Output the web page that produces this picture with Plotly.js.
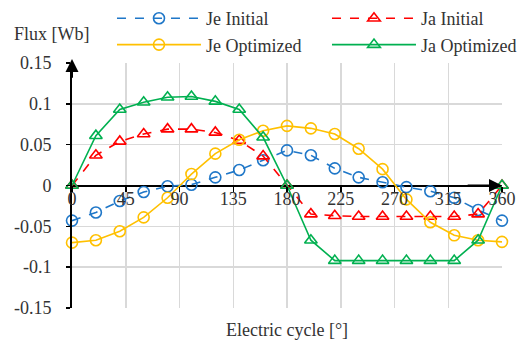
<!DOCTYPE html>
<html>
<head>
<meta charset="utf-8">
<script src="https://cdn.plot.ly/plotly-3.0.1.min.js"></script>
<style>html,body{margin:0;padding:0;background:#fff;}#chart{width:524px;height:343px;}</style>
</head>
<body>
<div id="chart"></div>
<script>
const angles = [0,20,40,60,80,100,120,140,160,180,200,220,240,260,280,300,320,340,360];
const jeInitial = [-0.043,-0.033,-0.019,-0.008,-0.001,0.001,0.010,0.019,0.031,0.043,0.037,0.021,0.010,0.004,-0.002,-0.007,-0.015,-0.030,-0.043];
const jaInitial = [0,0.037,0.054,0.063,0.069,0.069,0.065,0.055,0.036,0,-0.035,-0.037,-0.038,-0.038,-0.038,-0.038,-0.038,-0.035,0];
const jeOptimized = [-0.070,-0.067,-0.056,-0.039,-0.015,0.014,0.039,0.056,0.067,0.073,0.070,0.063,0.045,0.020,-0.017,-0.045,-0.061,-0.067,-0.069];
const jaOptimized = [0,0.061,0.093,0.102,0.108,0.109,0.103,0.093,0.059,0,-0.067,-0.092,-0.092,-0.092,-0.092,-0.092,-0.092,-0.067,0];
const seriesNames = ["Je Initial","Ja Initial","Je Optimized","Ja Optimized"];
const xTicks = [0,45,90,135,180,225,270,315,360];
const yTicks = [-0.15,-0.1,-0.05,0,0.05,0.1,0.15];
const yTickText = ["-0.15","-0.1","-0.05","0","0.05","0.1","0.15"];

const FONT = "Liberation Serif, Times New Roman, serif";
const FS = 18;
function tr(y, name, color, dash, symbol, legendId){
  return {x: angles, y: y, name: name, type: 'scatter', mode: 'lines+markers',
    legend: legendId,
    line: {color: color, width: 1.6, dash: dash},
    marker: {symbol: symbol, size: 11, color: color, line: {width: 1.6, color: color}},
    cliponaxis: false};
}
const data = [
  tr(jeInitial, seriesNames[0], '#1F77C8', 'dash', 'circle-open', 'legend'),
  tr(jaInitial, seriesNames[1], '#FF0000', 'dash', 'triangle-up-open', 'legend2'),
  tr(jeOptimized, seriesNames[2], '#FFC000', 'solid', 'circle-open', 'legend'),
  tr(jaOptimized, seriesNames[3], '#00B050', 'solid', 'triangle-up-open', 'legend2')
];
const legendBase = {orientation: 'v', xref: 'paper', yref: 'container', xanchor: 'left', yanchor: 'top', y: 1,
  itemwidth: 84, font: {family: FONT, size: FS, color: '#333'}, bgcolor: 'rgba(0,0,0,0)', traceorder: 'normal'};
const layout = {
  width: 524, height: 343,
  margin: {l: 72, r: 22, t: 60, b: 35},
  paper_bgcolor: '#fff', plot_bgcolor: '#fff',
  font: {family: FONT, size: FS, color: '#333'},
  showlegend: true,
  legend: Object.assign({}, legendBase, {x: 0.093}),
  legend2: Object.assign({}, legendBase, {x: 0.593}),
  xaxis: {range: [0, 360], tickvals: xTicks, ticktext: xTicks.map(String),
    anchor: 'free', position: 0.5, showline: false, zeroline: false,
    showgrid: true, gridcolor: '#d9d9d9', gridwidth: 1.5,
    ticks: 'outside', ticklen: 5, tickcolor: '#000', tickwidth: 1.5,
    ticklabelstandoff: -8,
    tickfont: {family: FONT, size: FS, color: '#333'}},
  yaxis: {range: [-0.15, 0.15], tickvals: yTicks, ticktext: yTickText,
    showline: true, linecolor: '#000', linewidth: 2,
    zeroline: true, zerolinecolor: '#000', zerolinewidth: 2,
    showgrid: true, gridcolor: '#d9d9d9', gridwidth: 1.5,
    ticks: 'outside', ticklen: 4, tickcolor: '#000', tickwidth: 1.5,
    ticklabelstandoff: 11,
    tickfont: {family: FONT, size: FS, color: '#333'}},
  annotations: [
    {x: 0, y: 0.155, ax: 0, ay: 0.13, xref: 'x', yref: 'y', axref: 'x', ayref: 'y',
     showarrow: true, arrowhead: 2, arrowsize: 1.3, arrowwidth: 2, arrowcolor: '#000', text: ''},
    {x: 360, y: 0, ax: 330, ay: 0, xref: 'x', yref: 'y', axref: 'x', ayref: 'y',
     showarrow: true, arrowhead: 2, arrowsize: 1.3, arrowwidth: 2, arrowcolor: '#000', text: ''},
    {text: 'Flux [Wb]', xref: 'paper', yref: 'paper', x: -0.14, y: 1.12, xanchor: 'left', yanchor: 'middle',
     showarrow: false, font: {family: FONT, size: FS, color: '#333'}},
    {text: 'Electric cycle [°]', xref: 'paper', yref: 'paper', x: 0.5, y: -0.09, xanchor: 'center', yanchor: 'middle',
     showarrow: false, font: {family: FONT, size: FS, color: '#333'}}
  ]
};
Plotly.newPlot('chart', data, layout, {displayModeBar: false, staticPlot: true});
</script>
</body>
</html>
